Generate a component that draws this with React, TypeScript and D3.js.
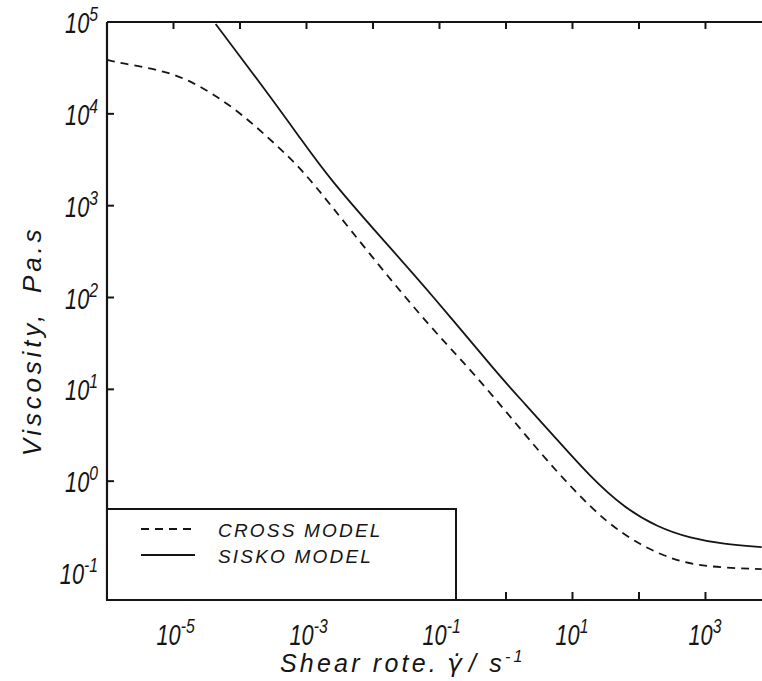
import * as d3 from "d3";

// shear rate (1/s) and viscosity (Pa.s)
const crossRate = [1e-6, 1.6e-6, 6.4e-6, 1.8e-5, 8e-5, 2.6e-4, 8.1e-4, 2.3e-3, 9.2e-3, 0.0406, 0.123, 0.324, 1.05, 3.3, 10.4, 33.6, 105, 330, 1070, 7000];
const crossVisc = [3.86e4, 3.57e4, 3.0e4, 2.33e4, 1.19e4, 5.6e3, 2.6e3, 1.02e3, 290, 78.5, 31.8, 15.0, 5.5, 2.02, 0.8, 0.348, 0.201, 0.138, 0.116, 0.11];

const siskoRate = [4.3e-5, 2.6e-4, 8.1e-4, 2.3e-3, 0.013, 0.0733, 0.826, 1.83, 5.94, 18.7, 58.5, 190, 594, 1870, 7000];
const siskoVisc = [9.5e4, 1.69e4, 5.4e3, 1.9e3, 455, 112, 13.5, 7.26, 2.8, 1.11, 0.52, 0.315, 0.239, 0.206, 0.191];

const xTickExp = [-5, -4, -3, -2, -1, 0, 1, 2, 3];
const xLabelExp = [-5, -3, -1, 1, 3];
const yTickExp = [-1, 0, 1, 2, 3, 4, 5];

const legendItems = ["CROSS MODEL", "SISKO MODEL"];

const W = 762;
const H = 681;
const left = 107;
const top = 22;
const bottom = 600;

const ink = "#151515";
const font = "'Liberation Sans', Arial, sans-serif";

const Pow = ({ x, y, exp, anchor }: { x: number; y: number; exp: number; anchor: string }) => (
    <g transform={`translate(${x},${y}) scale(0.75,1)`}>
        <text textAnchor={anchor} fontFamily={font} fontStyle="italic" fontSize={29} fill={ink}>
            10<tspan dy={-12} fontSize={21}>{exp < 0 ? "-" + Math.abs(exp) : exp}</tspan>
        </text>
    </g>
);

export default function App() {
    const x = d3.scaleLog().domain([1e-6, Math.pow(10, 3.85)]).range([left, W]);
    const y = d3.scaleLog().domain([Math.pow(10, -1.294), 1e5]).range([bottom, top]);

    const line = d3.line<[number, number]>()
        .x(d => x(d[0]))
        .y(d => y(d[1]))
        .curve(d3.curveBasis);

    const cross = crossRate.map((r, i) => [r, crossVisc[i]] as [number, number]);
    const sisko = siskoRate.map((r, i) => [r, siskoVisc[i]] as [number, number]);

    const legTop = 509;
    const legRight = 456;

    return (
        <svg width={W} height={H} style={{ position: "absolute", left: 0, top: 0, background: "#fff" }}>
            <defs>
                <clipPath id="plot">
                    <rect x={left} y={top} width={W - left} height={bottom - top} />
                </clipPath>
            </defs>

            {/* curves */}
            <g clipPath="url(#plot)" fill="none" stroke={ink} strokeWidth={1.8}>
                <path d={line(cross) ?? ""} strokeDasharray="8,6" />
                <path d={line(sisko) ?? ""} />
            </g>

            {/* frame */}
            <g stroke={ink} strokeWidth={2.2} fill="none">
                <line x1={left} x2={W} y1={top} y2={top} />
                <line x1={left} x2={W} y1={bottom} y2={bottom} />
                <line x1={left} x2={left} y1={top} y2={bottom} />
            </g>

            {/* ticks */}
            <g stroke={ink} strokeWidth={2}>
                {xTickExp.map(e => (
                    <g key={e}>
                        <line x1={x(Math.pow(10, e))} x2={x(Math.pow(10, e))} y1={top} y2={top + 7} />
                        <line x1={x(Math.pow(10, e))} x2={x(Math.pow(10, e))} y1={bottom} y2={bottom - 8} />
                    </g>
                ))}
                {yTickExp.map(e => (
                    <line key={e} x1={left} x2={left + 7} y1={y(Math.pow(10, e))} y2={y(Math.pow(10, e))} />
                ))}
            </g>

            {/* tick labels */}
            {yTickExp.map(e => (
                <Pow key={e} x={98} y={y(Math.pow(10, e)) + 11} exp={e} anchor="end" />
            ))}
            {xLabelExp.map(e => (
                <Pow key={e} x={x(Math.pow(10, e)) - 17} y={645} exp={e} anchor="start" />
            ))}

            {/* axis titles */}
            <text x={280} y={672} fontFamily={font} fontStyle="italic" fontSize={25} letterSpacing={3.2} fill={ink}>
                Shear rote.<tspan dx={8} fontFamily="'DejaVu Sans', sans-serif">γ̇</tspan>
                <tspan dx={4}>/ s</tspan><tspan dy={-10} fontSize={16}>-1</tspan>
            </text>
            <text transform="translate(41,341) rotate(-90)" textAnchor="middle" fontFamily={font} fontStyle="italic"
                fontSize={26} letterSpacing={3.8} fill={ink}>
                Viscosity,<tspan dx={18}>Pa.s</tspan>
            </text>

            {/* legend */}
            <rect x={left} y={legTop} width={legRight - left} height={bottom - legTop} fill="#fff" stroke={ink} strokeWidth={2} />
            {legendItems.map((name, i) => (
                <g key={name}>
                    <line x1={141} x2={195} y1={529 + i * 26} y2={529 + i * 26} stroke={ink} strokeWidth={1.8}
                        strokeDasharray={i === 0 ? "8,6" : undefined} />
                    <text x={218} y={537 + i * 26} fontFamily={font} fontStyle="italic" fontSize={19}
                        letterSpacing={2.2} fill={ink}>{name}</text>
                </g>
            ))}
        </svg>
    );
}
